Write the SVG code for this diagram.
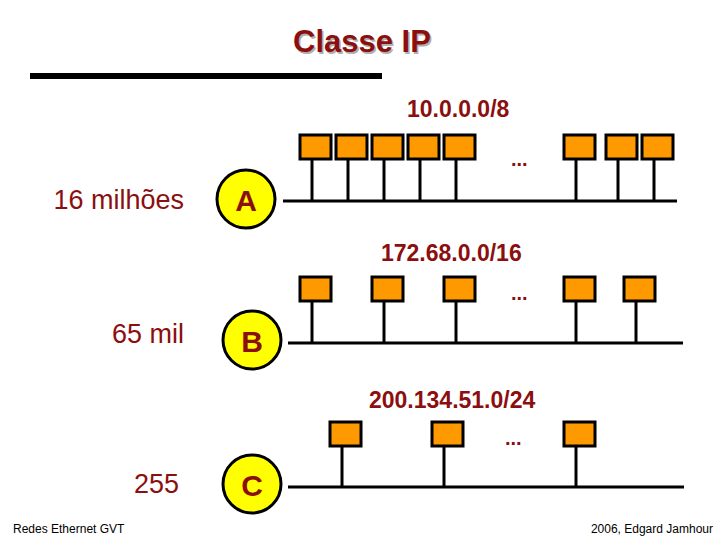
<svg xmlns="http://www.w3.org/2000/svg" width="720" height="540" viewBox="0 0 720 540">
<style>
.host{fill:#FF9900;stroke:#000;stroke-width:3}
.ln{stroke:#000;stroke-width:3;fill:none}
.cls{fill:#FFFF00;stroke:#000;stroke-width:3}
.red{fill:#8B0F0F;font-family:"Liberation Sans",Arial,sans-serif}
.ip{font-size:23px;font-weight:bold}
.cnt{font-size:27px}
.let{font-size:30px;font-weight:bold;text-anchor:middle}
.dots{font-size:20px;font-weight:bold}
.foot{fill:#000;font-family:"Liberation Sans",Arial,sans-serif;font-size:12px}
</style>
<rect width="720" height="540" fill="#fff"/>
<g id="title">
<text x="294.5" y="53.5" font-family="Liberation Sans,Arial,sans-serif" font-size="31" font-weight="bold" fill="#b0b0b0">Classe IP</text>
<text x="293" y="52" class="red" font-size="31" font-weight="bold">Classe IP</text>
<rect x="30" y="73" width="352" height="6" fill="#000"/>
</g>
<g id="connectors">
<line class="ln" x1="283" y1="201" x2="677" y2="201"/>
<line class="ln" x1="312" y1="160" x2="312" y2="201"/>
<line class="ln" x1="348" y1="160" x2="348" y2="201"/>
<line class="ln" x1="384" y1="160" x2="384" y2="201"/>
<line class="ln" x1="420" y1="160" x2="420" y2="201"/>
<line class="ln" x1="456" y1="160" x2="456" y2="201"/>
<line class="ln" x1="576" y1="160" x2="576" y2="201"/>
<line class="ln" x1="618" y1="160" x2="618" y2="201"/>
<line class="ln" x1="654" y1="160" x2="654" y2="201"/>
<line class="ln" x1="288" y1="343" x2="683" y2="343"/>
<line class="ln" x1="312" y1="301" x2="312" y2="343"/>
<line class="ln" x1="384" y1="301" x2="384" y2="343"/>
<line class="ln" x1="456" y1="301" x2="456" y2="343"/>
<line class="ln" x1="576" y1="301" x2="576" y2="343"/>
<line class="ln" x1="636" y1="301" x2="636" y2="343"/>
<line class="ln" x1="288" y1="487" x2="684" y2="487"/>
<line class="ln" x1="342" y1="446" x2="342" y2="487"/>
<line class="ln" x1="444" y1="446" x2="444" y2="487"/>
<line class="ln" x1="576" y1="446" x2="576" y2="487"/>
</g>
<g id="hostsA">
<rect class="host" x="300" y="135" width="31" height="24"/>
<rect class="host" x="336" y="135" width="31" height="24"/>
<rect class="host" x="372" y="135" width="31" height="24"/>
<rect class="host" x="408" y="135" width="31" height="24"/>
<rect class="host" x="444" y="135" width="31" height="24"/>
<rect class="host" x="564" y="135" width="31" height="24"/>
<rect class="host" x="606" y="135" width="31" height="24"/>
<rect class="host" x="642" y="135" width="31" height="24"/>
</g>
<g id="hostsB">
<rect class="host" x="300" y="277" width="31" height="24"/>
<rect class="host" x="372" y="277" width="31" height="24"/>
<rect class="host" x="444" y="277" width="31" height="24"/>
<rect class="host" x="564" y="277" width="31" height="24"/>
<rect class="host" x="624" y="277" width="31" height="24"/>
</g>
<g id="hostsC">
<rect class="host" x="330" y="422" width="31" height="24"/>
<rect class="host" x="432" y="422" width="31" height="24"/>
<rect class="host" x="564" y="422" width="31" height="24"/>
</g>
<g id="classA">
<circle class="cls" cx="246" cy="199" r="29"/>
<text class="red let" x="246" y="211">A</text>
</g>
<g id="classB">
<circle class="cls" cx="252" cy="340" r="29"/>
<text class="red let" x="252" y="352">B</text>
</g>
<g id="classC">
<circle class="cls" cx="252" cy="484" r="29"/>
<text class="red let" x="252" y="496">C</text>
</g>
<g id="labels">
<text class="red ip" x="407" y="117">10.0.0.0/8</text>
<text class="red ip" x="381" y="261">172.68.0.0/16</text>
<text class="red ip" x="369" y="408">200.134.51.0/24</text>
<text class="red dots" x="511" y="166">...</text>
<text class="red dots" x="511" y="300">...</text>
<text class="red dots" x="505" y="445">...</text>
<text class="red cnt" x="184" y="209" text-anchor="end">16 milhões</text>
<text class="red cnt" x="184" y="343" text-anchor="end">65 mil</text>
<text class="red cnt" x="179" y="493" text-anchor="end">255</text>
<text class="foot" x="13" y="533">Redes Ethernet GVT</text>
<text class="foot" x="713" y="533" text-anchor="end">2006, Edgard Jamhour</text>
</g>
</svg>
